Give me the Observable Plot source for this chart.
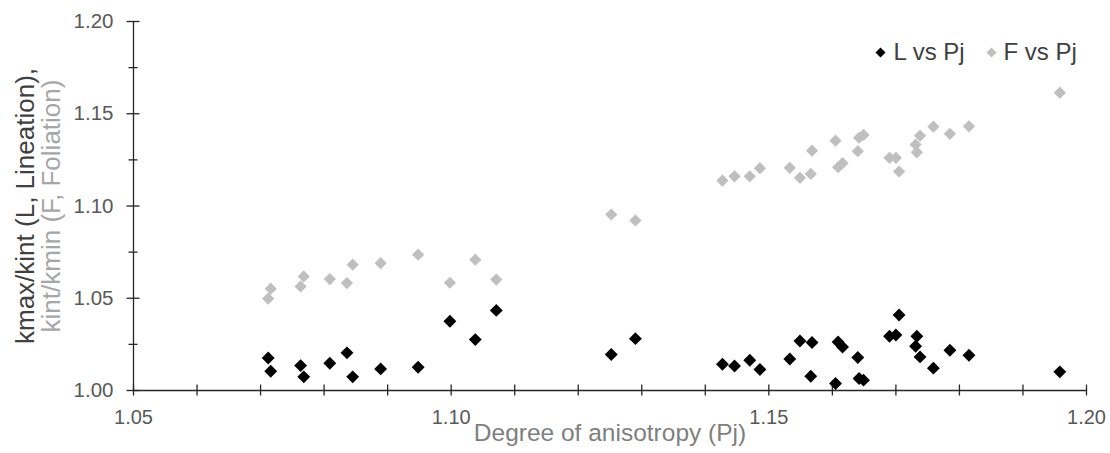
<!DOCTYPE html>
<html><head><meta charset="utf-8">
<script src="https://cdn.jsdelivr.net/npm/d3@7"></script>
<script src="https://cdn.jsdelivr.net/npm/@observablehq/plot@0.6"></script>
<style>
html,body{margin:0;padding:0;background:#fff;}
#chart svg{display:block;}
</style></head><body><div id="chart"></div>
<script>
// Degree of anisotropy (shared x for both series)
const pj = [1.0712, 1.0716, 1.0763, 1.0768, 1.0809, 1.0836, 1.0845, 1.0889, 1.0948, 1.0998, 1.1038, 1.1071,
            1.1252, 1.1290, 1.1427, 1.1446, 1.1470, 1.1486, 1.1533, 1.1549, 1.1566, 1.1568, 1.1605, 1.1609,
            1.1616, 1.1640, 1.1642, 1.1649, 1.1690, 1.1700, 1.1705, 1.1731, 1.1733, 1.1738, 1.1759, 1.1785,
            1.1815, 1.1958];
// L = kmax/kint (Lineation)
const lValues = [1.0176, 1.0104, 1.0135, 1.0074, 1.0148, 1.0204, 1.0074, 1.0117, 1.0126, 1.0375, 1.0276, 1.0434,
                 1.0195, 1.0281, 1.0142, 1.0133, 1.0164, 1.0114, 1.0171, 1.0268, 1.0077, 1.0260, 1.0038, 1.0263,
                 1.0236, 1.0179, 1.0065, 1.0056, 1.0294, 1.0301, 1.0409, 1.0240, 1.0294, 1.0182, 1.0121, 1.0218,
                 1.0191, 1.0101];
// F = kint/kmin (Foliation)
const fValues = [1.0498, 1.0552, 1.0564, 1.0618, 1.0604, 1.0582, 1.0682, 1.0690, 1.0736, 1.0584, 1.0709, 1.0601,
                 1.0954, 1.0922, 1.1138, 1.1161, 1.1161, 1.1205, 1.1207, 1.1153, 1.1174, 1.1300, 1.1354, 1.1210,
                 1.1232, 1.1297, 1.1370, 1.1385, 1.1261, 1.1261, 1.1187, 1.1333, 1.1291, 1.1381, 1.1430, 1.1391,
                 1.1432, 1.1614];

const seriesNames = ["L vs Pj", "F vs Pj"];
const seriesColors = ["#000000", "#bfbfbf"];
const xMajorTicks = [1.05, 1.10, 1.15, 1.20];
const xMinorTicks = [1.05, 1.06, 1.07, 1.08, 1.09, 1.10, 1.11, 1.12, 1.13, 1.14, 1.15, 1.16, 1.17, 1.18, 1.19, 1.20];
const yMajorTicks = [1.00, 1.05, 1.10, 1.15, 1.20];
const yMinorTicks = [1.025, 1.075, 1.125, 1.175];
const xTitle = "Degree of anisotropy (Pj)";
const yTitle1 = "kmax/kint (L, Lineation),";
const yTitle2 = "kint/kmin (F, Foliation)";

const lData = pj.map((x, i) => ({pj: x, v: lValues[i]}));
const fData = pj.map((x, i) => ({pj: x, v: fValues[i]}));

const axisColor = "#262626";
const fmt = d3.format(".2f");

const chart = Plot.plot({
  width: 1110,
  height: 453,
  marginLeft: 133,
  marginRight: 24,
  marginTop: 21,
  marginBottom: 63,
  style: {fontFamily: "'Liberation Sans', Arial, sans-serif", background: "#fff"},
  x: {domain: [1.05, 1.20]},
  y: {domain: [1.00, 1.20]},
  marks: [
    Plot.ruleY([1.00], {stroke: axisColor, strokeWidth: 1.3}),
    Plot.ruleX([1.05], {stroke: axisColor, strokeWidth: 1.3}),
    Plot.ruleX(xMinorTicks, {x: d => d, y1: () => 1.00, y2: () => 1.00, insetTop: -5.5, insetBottom: -5.5, stroke: axisColor, strokeWidth: 1.3}),
    Plot.ruleY(yMajorTicks, {y: d => d, x1: () => 1.05, x2: () => 1.05, insetLeft: -6.5, insetRight: -6.5, stroke: axisColor, strokeWidth: 1.3}),
    Plot.ruleY(yMinorTicks, {y: d => d, x1: () => 1.05, x2: () => 1.05, insetLeft: -4.5, insetRight: -4.5, stroke: axisColor, strokeWidth: 1.3}),
    Plot.axisX(xMajorTicks, {tickSize: 0, tickPadding: 19, tickFormat: fmt, fontSize: 20, fill: "#595959", label: null}),
    Plot.axisY(yMajorTicks, {tickSize: 0, tickPadding: 20, tickFormat: fmt, fontSize: 20.5, fill: "#595959", label: null}),
    Plot.dot(fData, {x: "pj", y: "v", symbol: "diamond2", r: 5.5, fill: seriesColors[1], stroke: "none"}),
    Plot.dot(lData, {x: "pj", y: "v", symbol: "diamond2", r: 5.8, fill: seriesColors[0], stroke: "none"}),
    Plot.text([xTitle], {frameAnchor: "bottom", dy: 43, fontSize: 24.5, fill: "#7f7f7f", textAnchor: "middle", lineAnchor: "middle"}),
    Plot.text([yTitle1], {frameAnchor: "left", dx: -108, rotate: -90, fontSize: 26, fill: "#404040", textAnchor: "middle", lineAnchor: "middle"}),
    Plot.text([yTitle2], {frameAnchor: "left", dx: -82, rotate: -90, fontSize: 26, fill: "#a6a6a6", textAnchor: "middle", lineAnchor: "middle"}),
    Plot.dot([seriesNames[0]], {frameAnchor: "top-left", dx: 747, dy: 31, symbol: "diamond2", r: 4.5, fill: seriesColors[0]}),
    Plot.text([seriesNames[0]], {frameAnchor: "top-left", dx: 760, dy: 31, fontSize: 24, fill: "#404040", textAnchor: "start", lineAnchor: "middle"}),
    Plot.dot([seriesNames[1]], {frameAnchor: "top-left", dx: 858, dy: 31, symbol: "diamond2", r: 4.5, fill: seriesColors[1]}),
    Plot.text([seriesNames[1]], {frameAnchor: "top-left", dx: 870, dy: 31, fontSize: 24, fill: "#404040", textAnchor: "start", lineAnchor: "middle"})
  ]
});
document.getElementById("chart").appendChild(chart);
</script>
</body></html>
